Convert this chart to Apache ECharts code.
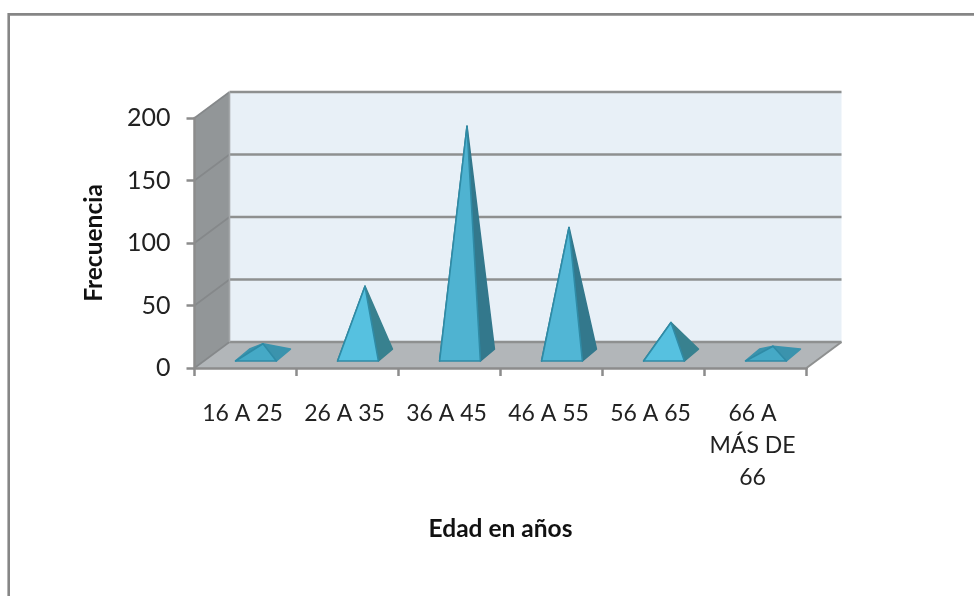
<!DOCTYPE html>
<html><head><meta charset="utf-8">
<style>html,body{margin:0;padding:0;background:#fff}#c{width:974px;height:596px;filter:blur(0.4px)}</style>
<script src="https://cdn.jsdelivr.net/npm/echarts@6/dist/echarts.min.js"></script>
</head><body><div id="c"></div>
<script>
const categories = ['16 A 25','26 A 35','36 A 45','46 A 55','56 A 65','66 A\nMÁS DE\n66'];
const frecuencia = [9,55,183,102,26,7];
const yTicks = [0,50,100,150,200];
const frontColors = ['#45a9c6','#56c1e0','#4fb3d1','#51b6d5','#56c1e0','#45a9c6'];
const sideColors = ['#3b93ad','#38818f','#33788c','#33788c','#38818f','#3b93ad'];
const DX = 35, DY = 26, FONT = 'Lato, "Open Sans", sans-serif';

const chart = echarts.init(document.getElementById('c'), null, {renderer:'canvas'});
chart.setOption({
  animation:false,
  backgroundColor:'#fff',
  grid:{left:194.5,right:167.5,top:118,bottom:228,containLabel:false},
  graphic:[{type:'polyline',z:-5,shape:{points:[[8.7,596],[8.7,14.4],[974,14.4]]},style:{stroke:'#868686',lineWidth:2.6,fill:null}}],
  xAxis:{type:'category',data:categories,
    name:'Edad en años',nameLocation:'center',nameGap:149,
    nameTextStyle:{fontFamily:FONT,fontWeight:'bold',fontSize:24.5,color:'#111'},
    axisLine:{lineStyle:{color:'#8c8c8c',width:2.5}},
    axisTick:{show:true,alignWithLabel:false,length:8,lineStyle:{color:'#8c8c8c',width:2.5}},
    axisLabel:{interval:0,margin:30,fontFamily:FONT,fontSize:23,lineHeight:32,color:'#222',padding:[0,6,0,0]},
    splitLine:{show:false},z:6},
  yAxis:{type:'value',min:0,max:200,interval:50,
    name:'Frecuencia',nameLocation:'center',nameGap:88,
    nameTextStyle:{fontFamily:FONT,fontWeight:'bold',fontSize:24.5,color:'#111'},
    axisLine:{show:true,lineStyle:{color:'#8c8c8c',width:2.5}},
    axisTick:{show:true,length:8,lineStyle:{color:'#8c8c8c',width:2.5}},
    axisLabel:{margin:24,fontFamily:FONT,fontSize:25,color:'#222'},
    splitLine:{show:false},z:6},
  series:[
    {type:'custom',coordinateSystem:'cartesian2d',silent:true,clip:false,z:1,data:[0],
      renderItem(params,api){
        const c=params.coordSys, L=c.x, R=c.x+c.width, B=c.y+c.height, T=c.y;
        const poly=(points,fill)=>({type:'polygon',shape:{points},style:{fill}});
        const kids=[
          poly([[L+DX,T-DY],[R+DX,T-DY],[R+DX,B-DY],[L+DX,B-DY]],'#e8f0f7'),
          poly([[L,T],[L+DX,T-DY],[L+DX,B-DY],[L,B]],'#929698'),
          poly([[L,B],[L+DX,B-DY],[R+DX,B-DY],[R,B]],'#b2b6b9')
        ];
        yTicks.forEach(v=>{
          const y=api.coord([0,v])[1];
          kids.push({type:'line',shape:{x1:L,y1:y,x2:L+DX,y2:y-DY},style:{stroke:'#85888a',lineWidth:1.6}});
          kids.push({type:'line',shape:{x1:L+DX,y1:y-DY,x2:R+DX,y2:y-DY},style:{stroke:'#8e9090',lineWidth:2.6}});
        });
        kids.push({type:'line',shape:{x1:L+DX,y1:T-DY,x2:L+DX,y2:B-DY},style:{stroke:'#a5a8aa',lineWidth:1.6}});
        kids.push({type:'line',shape:{x1:R,y1:B,x2:R+DX,y2:B-DY},style:{stroke:'#8e9090',lineWidth:2}});
        return {type:'group',children:kids};
      }},
    {type:'custom',coordinateSystem:'cartesian2d',silent:true,clip:false,z:2,
      data:frecuencia.map((v,i)=>[i,v]),
      encode:{x:0,y:1},
      renderItem(params,api){
        const i=api.value(0), v=api.value(1);
        const base=api.coord([i,0]), top=api.coord([i,v]);
        const band=api.size([1,0])[0];
        const hw=band*0.2, ox=DX*0.2, oy=DY*0.23;
        const cx=base[0]+DX/2, cy=base[1]-DY/2;
        const h=base[1]-top[1];
        const FL=[cx-hw-ox,cy+oy],FR=[cx+hw-ox,cy+oy],BR=[cx+hw+ox,cy-oy],BL=[cx-hw+ox,cy-oy],A=[cx,cy-h];
        const face=(points,fill,stroke)=>({type:'polygon',shape:{points},
          style:{fill,stroke,lineWidth:1.6,lineJoin:'round'}});
        return {type:'group',children:[
          face([FL,BL,A],sideColors[i],sideColors[i]),
          face([FR,BR,A],sideColors[i],sideColors[i]),
          face([FL,FR,A],frontColors[i],'#2f8ba6')
        ]};
      }}
  ]
});
</script></body></html>
